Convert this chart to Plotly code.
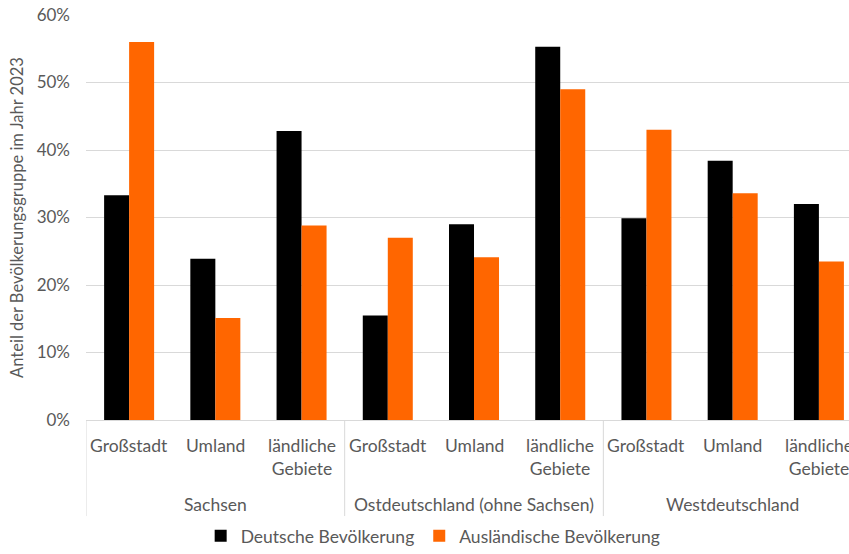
import plotly.graph_objects as go

categories = ["Großstadt", "Umland", "ländliche<br>Gebiete"] * 3
groups = ["Sachsen", "Ostdeutschland (ohne Sachsen)", "Westdeutschland"]
deutsche = [33.3, 23.9, 42.8, 15.5, 29.0, 55.3, 29.9, 38.4, 32.0]
auslaendische = [56.0, 15.1, 28.8, 27.0, 24.1, 49.0, 43.0, 33.6, 23.5]
y_ticks = [0, 10, 20, 30, 40, 50, 60]
y_ticklabels = ["0%", "10%", "20%", "30%", "40%", "50%", "60%"]

FONT = "Lato"
TXT = "#595959"
xs = list(range(len(categories)))

fig = go.Figure()
fig.add_trace(go.Bar(x=xs, y=deutsche, name="Deutsche Bevölkerung",
                     marker=dict(color="#000000", line=dict(width=0))))
fig.add_trace(go.Bar(x=xs, y=auslaendische, name="Ausländische Bevölkerung",
                     marker=dict(color="#FF6600", line=dict(width=0))))

plot_h = 409
def py(pix):
    return (424 - pix) / plot_h

annotations = []
for i, c in enumerate(categories):
    annotations.append(dict(x=i, y=py(437), xref="x", yref="paper", text=c,
                            showarrow=False, yanchor="top", xanchor="center",
                            font=dict(family=FONT, size=17.5, color=TXT)))
for g, name in enumerate(groups):
    annotations.append(dict(x=g * 3 + 1, y=py(509), xref="x", yref="paper", text=name,
                            showarrow=False, yanchor="middle", xanchor="center",
                            font=dict(family=FONT, size=17.5, color=TXT)))

shapes = []
for b in [-0.5, 2.5, 5.5, 8.5]:
    shapes.append(dict(type="line", xref="x", yref="paper", x0=b, x1=b,
                       y0=0, y1=py(521), line=dict(color="#d9d9d9", width=1)))

fig.update_layout(
    width=849, height=554,
    margin=dict(l=86, r=0, t=15, b=130),
    paper_bgcolor="white", plot_bgcolor="white",
    barmode="group", bargap=0.42, bargroupgap=0,
    font=dict(family=FONT, size=17, color=TXT),
    xaxis=dict(range=[-0.5, 8.349], showticklabels=False, showgrid=False,
               zeroline=False, showline=False, ticks=""),
    yaxis=dict(range=[0, 60], tickvals=y_ticks, ticktext=y_ticklabels,
               showgrid=True, gridcolor="#d9d9d9", gridwidth=1,
               zeroline=True, zerolinecolor="#d9d9d9", zerolinewidth=1,
               showline=False, ticks="", ticklabelstandoff=15,
               tickfont=dict(family=FONT, size=17, color=TXT),
               title=dict(text="Anteil der Bevölkerungsgruppe im Jahr 2023",
                          font=dict(family=FONT, size=16.5, color=TXT), standoff=8)),
    legend=dict(orientation="h", x=0.455, xanchor="center", y=py(541), yanchor="middle",
                font=dict(family=FONT, size=17.5, color=TXT), itemwidth=30,
                traceorder="normal"),
    annotations=annotations, shapes=shapes,
)

fig.write_html("out.html")
